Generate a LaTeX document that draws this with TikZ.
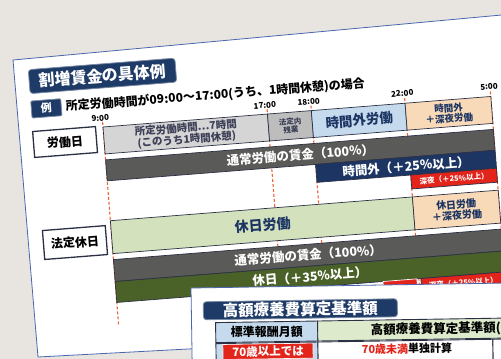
\documentclass[tikz,border=0pt]{standalone}
\usepackage{fontspec}
\setmainfont{Noto Sans CJK JP}
\usepackage{xcolor}
\usepackage{tikz}
\usetikzlibrary{positioning}

\definecolor{deskgray}{HTML}{E8E5E0}
\definecolor{paperblue}{HTML}{4A66AE}
\definecolor{navy}{HTML}{1C3563}
\definecolor{bannernavy}{HTML}{1E3A66}
\definecolor{wagegray}{HTML}{5A5A58}
\definecolor{nightred}{HTML}{E2241B}
\definecolor{olive}{HTML}{4A6228}
\definecolor{palegreen}{HTML}{D3E2BD}
\definecolor{headgreen}{HTML}{DDEACB}
\definecolor{peach}{HTML}{F9DAB8}
\definecolor{paleblue}{HTML}{C6DAEE}
\definecolor{lightgray}{HTML}{D5D5D5}
\definecolor{midgray}{HTML}{BDBDBD}
\definecolor{dashorange}{HTML}{EC6536}
\definecolor{edge}{HTML}{2B3045}
\definecolor{inktext}{HTML}{3C3F55}

\newcommand{\fsz}[2]{\fontsize{#1}{#2}\selectfont}

\tikzstyle{segbox} = [draw=edge, line width=0.7pt, inner sep=0pt, outer sep=0pt, align=center, text=inktext]
\tikzstyle{wagebar} = [draw=edge, line width=0.7pt, inner sep=0pt, outer sep=0pt, text=white, font=\fsz{12.5}{13}\bfseries]
\tikzstyle{daylabel} = [draw=edge, line width=1.3pt, fill=white, inner sep=0pt, minimum width=63pt, font=\fsz{12}{12}\bfseries]
\tikzstyle{timeline} = [draw=dashorange, line width=1.1pt, dash pattern=on 3pt off 2pt]
\tikzstyle{timelabel} = [inner sep=0pt, font=\fsz{8}{8}\bfseries]
\tikzstyle{banner} = [fill=bannernavy, draw=bannernavy!60, line width=0.8pt, rounded corners=3pt, inner sep=0pt, text=white]
\tikzstyle{tablecell} = [draw=edge, line width=0.9pt, inner sep=0pt, outer sep=0pt]

\begin{document}
\begin{tikzpicture}[x=1pt, y=-1pt]

\useasboundingbox (0,0) rectangle (501,359);
\clip (0,0) rectangle (501,359);
\fill [deskgray] (0,0) rectangle (501,359);

%% first sheet

\path [fill=white, draw=paperblue, line width=0.8pt] (13,60) -- (545,11) -- (545,330) -- (38,357) -- cycle;

\begin{scope}[shift={(103,127)}, rotate=4.5, transform shape]

\coordinate (t9a) at (0,-5);
\coordinate (t9b) at (0,200);
\coordinate (t17a) at (165,-5);
\coordinate (t17b) at (165,200);
\coordinate (t18a) at (209,-5);
\coordinate (t18b) at (209,200);
\coordinate (t22a) at (303,-5);
\coordinate (t22b) at (303,200);
\coordinate (t5a) at (389,-5);
\coordinate (t5b) at (389,200);

\path [timeline] (t9a) to (t9b);
\path [timeline] (t17a) to (t17b);
\path [timeline] (t18a) to (t18b);
\path [timeline] (t22a) to (t22b);
\path [timeline] (t5a) to (t5b);

\node [banner, minimum width=147pt, minimum height=24pt, font=\fsz{16}{16}\bfseries] at (3.5,-51) (title) {割増賃金の具体例};
\node [banner, rounded corners=1pt, minimum width=30pt, minimum height=17pt, font=\fsz{11}{11}\bfseries] at (-55,-23) (rei) {例};
\node [right=4pt of rei, inner sep=0pt, font=\fsz{12}{12}\bfseries] (cond) {所定労働時間が09:00～17:00(うち、1時間休憩)の場合};

\node [timelabel] at (-2,-9) (l9) {9:00};
\node [timelabel] at (163,-9) (l17) {17:00};
\node [timelabel] at (207,-9) (l18) {18:00};
\node [timelabel] at (301,-10) (l22) {22:00};
\node [timelabel] at (388,-10) (l5) {5:00};

\node [daylabel, minimum height=26pt] at (-39,12) (workday) {労働日};

\node [segbox, fill=lightgray, minimum width=165pt, minimum height=27pt, font=\fsz{10.5}{11.5}\bfseries] at (82.5,13.5) (fixed) {所定労働時間…7時間\\(このうち1時間休憩)};
\node [segbox, fill=midgray, minimum width=44pt, minimum height=27pt, font=\fsz{7.5}{8.5}\bfseries] at (187,13.5) (inlaw) {法定内\\残業};
\node [segbox, fill=paleblue, minimum width=94pt, minimum height=27pt, text=navy, font=\fsz{13.5}{14}\bfseries] at (256,13.5) (overtime) {時間外労働};
\node [segbox, fill=peach, minimum width=86pt, minimum height=27pt, text=navy, font=\fsz{9.5}{10.5}\bfseries] at (346,13.5) (latenight) {時間外\\＋深夜労働};

\node [wagebar, fill=wagegray, minimum width=389pt, minimum height=21pt] at (194.5,43.5) (wage1) {通常労働の賃金（100\%）};
\node [wagebar, fill=navy, minimum width=180pt, minimum height=18pt] at (299,63) (extra1) {時間外（＋25\%以上）};
\node [wagebar, fill=nightred, minimum width=86pt, minimum height=14pt, font=\fsz{7.5}{8}\bfseries] at (346,79) (night1) {深夜（＋25\%以上）};

\node [daylabel, minimum height=29pt] at (-37,113) (holidaylabel) {法定休日};

\node [segbox, fill=palegreen, minimum width=303pt, minimum height=33pt, text=navy, font=\fsz{14}{15}\bfseries] at (151.5,110.5) (holiday) {休日労働};
\node [segbox, fill=peach, minimum width=86pt, minimum height=33pt, text=navy, font=\fsz{10}{11}\bfseries] at (346,110.5) (holinight) {休日労働\\＋深夜労働};

\node [wagebar, fill=wagegray, minimum width=389pt, minimum height=22pt] at (194.5,144) (wage2) {通常労働の賃金（100\%）};
\node [wagebar, fill=olive, minimum width=389pt, minimum height=21pt] at (194.5,165.5) (extra2) {休日（＋35\%以上）};
\node [wagebar, fill=nightred, draw=white, minimum width=34pt, minimum height=15pt] at (284,183.5) (night2a) {};
\node [wagebar, fill=nightred, minimum width=84pt, minimum height=15pt, font=\fsz{7.5}{8}\bfseries] at (347,183.5) (night2b) {深夜（＋25\%以上）};

\end{scope}

%% second sheet

\begin{scope}[shift={(191,288)}, rotate=0.9, transform shape]

\path [fill=white] (0,0) rectangle (330,80);
\path [draw=paperblue, line width=0.8pt] (0,80) -- (0,0) -- (330,0);

\node [banner, minimum width=194pt, minimum height=18pt, font=\fsz{15.5}{15.5}\bfseries] at (109,23) (title2) {高額療養費算定基準額};

\node [tablecell, fill=paleblue, minimum width=102pt, minimum height=20pt, font=\fsz{12}{12}\bfseries] at (75,45) (stdpay) {標準報酬月額};
\node [tablecell, fill=headgreen, minimum width=230pt, minimum height=20pt, anchor=west] at (126,45) (basehead) {};
\node [anchor=west, inner sep=0pt, font=\fsz{12.5}{12.5}\bfseries] at (179,45) (baseheadtext) {高額療養費算定基準額(};

\node [tablecell, fill=paleblue, minimum width=102pt, minimum height=34pt] at (75,73) (agecell) {};
\node [tablecell, fill=white, minimum width=175pt, minimum height=34pt] at (213.5,73) (calccell) {};
\node [tablecell, fill=white, minimum width=60pt, minimum height=34pt, anchor=west] at (301,73) (nextcell) {};

\node [fill=nightred, draw=white, line width=0.6pt, minimum width=90pt, minimum height=15pt, inner sep=0pt, text=white, font=\fsz{11.5}{11.5}\bfseries] at (76,64.5) (age70) {70歳以上では};
\node [inner sep=0pt, font=\fsz{11}{11}\bfseries] at (215,64) (under70) {\textcolor{nightred}{70歳未満}単独計算};

\end{scope}

\end{tikzpicture}
\end{document}
